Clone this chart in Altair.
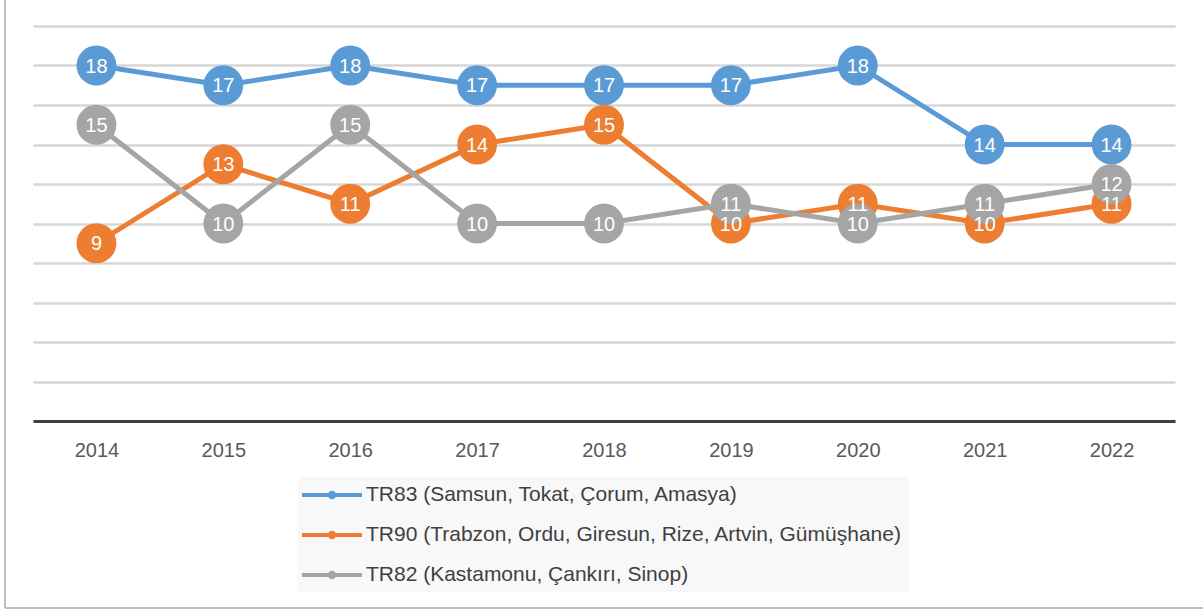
import altair as alt
import pandas as pd

years = ["2014", "2015", "2016", "2017", "2018", "2019", "2020", "2021", "2022"]
series_names = [
    "TR83 (Samsun, Tokat, Çorum, Amasya)",
    "TR90 (Trabzon, Ordu, Giresun, Rize, Artvin, Gümüşhane)",
    "TR82 (Kastamonu, Çankırı, Sinop)",
]
tr83 = [18, 17, 18, 17, 17, 17, 18, 14, 14]
tr90 = [9, 13, 11, 14, 15, 10, 11, 10, 11]
tr82 = [15, 10, 15, 10, 10, 11, 10, 11, 12]
colors = ["#5b9bd5", "#ed7d31", "#a5a5a5"]

rows = []
for name, vals in zip(series_names, [tr83, tr90, tr82]):
    for y, v in zip(years, vals):
        rows.append({"year": y, "series": name, "value": v})
df = pd.DataFrame(rows)

FONT = "Liberation Sans"

x_enc = alt.X("year:O", scale=alt.Scale(type="point", padding=0.5),
              axis=alt.Axis(title=None, labelFontSize=20, labelColor="#595959",
                            labelFont=FONT, labelPadding=19, ticks=False,
                            domain=True, domainColor="#404040", domainWidth=3,
                            labelAngle=0, grid=False))
y_enc = alt.Y("value:Q", scale=alt.Scale(domain=[0, 20], nice=False, zero=True),
              axis=alt.Axis(title=None, labels=False, ticks=False, domain=False,
                            values=list(range(0, 21, 2)), grid=True,
                            gridColor="#d6d6d6", gridWidth=2.5))
color_enc = alt.Color("series:N",
                      scale=alt.Scale(domain=series_names, range=colors),
                      legend=alt.Legend(
                          title=None, orient="none", legendX=265, legendY=451,
                          direction="vertical",
                          symbolType="M-3,0H3M0,-0.22A0.22,0.22 0 1,1 0,0.22A0.22,0.22 0 1,1 0,-0.22",
                          symbolSize=400, symbolStrokeWidth=4, symbolOffset=16,
                          labelFontSize=21, labelFont=FONT, labelColor="#404040",
                          labelLimit=800, rowPadding=17, labelOffset=22,
                          fillColor="#f8f8f8", padding=6))

base = alt.Chart(df)
layers = []
for name in series_names:
    sub = base.transform_filter(alt.datum.series == name)
    layers.append(sub.mark_line(strokeWidth=5).encode(x=x_enc, y=y_enc, color=color_enc))
    layers.append(sub.mark_circle(size=1590, opacity=1).encode(x=x_enc, y=y_enc, color=color_enc))

text = base.mark_text(color="white", fontSize=20, font=FONT, dy=1).encode(
    x=x_enc, y=y_enc, text="value:Q")

frame_left = alt.Chart(df).mark_rule(color="#bfbfbf", strokeWidth=2).encode(
    x=alt.value(-28), y=alt.value(-30), y2=alt.value(582))
frame_bottom = alt.Chart(df).mark_rule(color="#bfbfbf", strokeWidth=2).encode(
    x=alt.value(-28), x2=alt.value(1180), y=alt.value(582))

chart = alt.layer(*layers, text, frame_left, frame_bottom).properties(
    width=1142, height=395,
    padding={"left": 33, "top": 26, "right": 28, "bottom": 190},
    autosize=alt.AutoSizeParams(type="none"),
    background="white",
).configure_view(strokeWidth=0, stroke="transparent")

chart.save("out.html", embed_options={"renderer": "svg", "actions": False})
